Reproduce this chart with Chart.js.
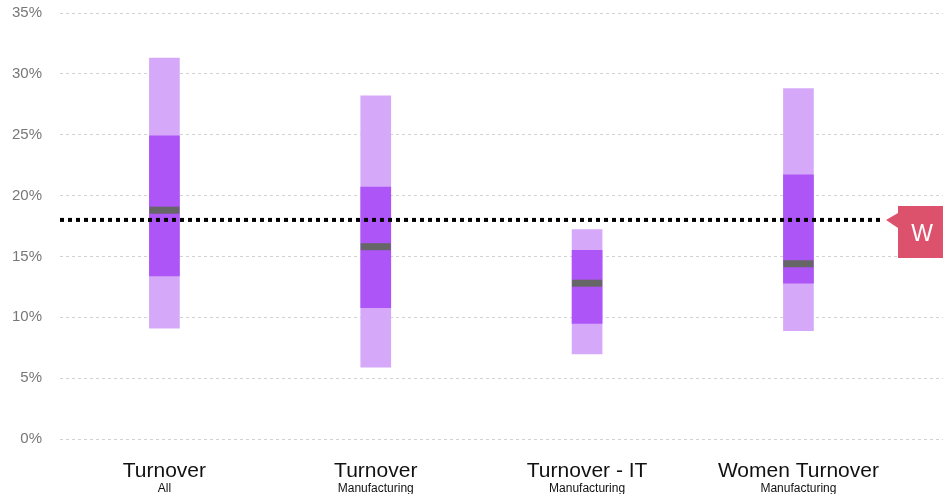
<!DOCTYPE html>
<html>
<head>
<meta charset="utf-8">
<script src="https://cdn.jsdelivr.net/npm/chart.js@4/dist/chart.umd.min.js"></script>
<style>
  html, body { margin: 0; padding: 0; background: #ffffff; }
  #wrap { width: 943px; height: 494px; position: relative; }
</style>
</head>
<body>
<div id="wrap"><canvas id="c"></canvas></div>
<script>
// ---- data ----
const categories    = ["Turnover", "Turnover", "Turnover - IT", "Women Turnover"];
const subCategories = ["All", "Manufacturing", "Manufacturing", "Manufacturing"];
const lowValues     = [9.1, 5.9, 7.0, 8.9];    // light band bottom
const q1Values      = [13.4, 10.8, 9.5, 12.8]; // dark band bottom
const medianValues  = [18.8, 15.8, 12.8, 14.4];
const q3Values      = [24.9, 20.7, 15.5, 21.7]; // dark band top
const highValues    = [31.3, 28.2, 17.2, 28.8]; // light band top
const benchmarkValue = [18];
const benchmarkLabel = ["W"];
const yTicks = [0, 5, 10, 15, 20, 25, 30, 35];

const FONT = "'Liberation Sans', Arial, Helvetica, sans-serif";

const lightData  = categories.map((c, i) => ({ x: i, y: [lowValues[i], highValues[i]] }));
const darkData   = categories.map((c, i) => ({ x: i, y: [q1Values[i], q3Values[i]] }));
const medianData = categories.map((c, i) => ({ x: i, y: medianValues[i] }));

const overlayPlugin = {
  id: 'overlay',
  afterDatasetsDraw(chart) {
    const ctx = chart.ctx;
    const xs = chart.scales.x, ys = chart.scales.y;
    const area = chart.chartArea;
    const yb = ys.getPixelForValue(benchmarkValue[0]);
    const tipX = area.right - 57;
    // dotted benchmark line
    ctx.save();
    ctx.strokeStyle = '#000000';
    ctx.lineWidth = 4;
    ctx.setLineDash([4, 4]);
    ctx.beginPath();
    ctx.moveTo(area.left, yb);
    ctx.lineTo(tipX - 4, yb);
    ctx.stroke();
    ctx.restore();
    // marker box with pointer
    const boxL = area.right - 45;
    ctx.save();
    ctx.fillStyle = '#dc526d';
    ctx.beginPath();
    ctx.moveTo(tipX, yb);
    ctx.lineTo(boxL, yb - 7);
    ctx.lineTo(boxL, yb - 14);
    ctx.lineTo(area.right, yb - 14);
    ctx.lineTo(area.right, yb + 38);
    ctx.lineTo(boxL, yb + 38);
    ctx.lineTo(boxL, yb + 8);
    ctx.closePath();
    ctx.fill();
    ctx.fillStyle = '#ffffff';
    ctx.font = '23px ' + FONT;
    ctx.textAlign = 'center';
    ctx.textBaseline = 'alphabetic';
    ctx.fillText(benchmarkLabel[0], boxL + 24, yb + 21);
    ctx.restore();
    // category labels
    ctx.save();
    ctx.textAlign = 'center';
    ctx.textBaseline = 'alphabetic';
    categories.forEach((c, i) => {
      const x = xs.getPixelForValue(i);
      ctx.fillStyle = '#111111';
      ctx.font = '21px ' + FONT;
      ctx.fillText(c, x, area.bottom + 38);
      ctx.font = '12px ' + FONT;
      ctx.fillText(subCategories[i], x, area.bottom + 53);
    });
    ctx.restore();
  }
};

new Chart(document.getElementById('c'), {
  type: 'bar',
  data: {
    datasets: [
      {
        type: 'line',
        label: 'Median',
        data: medianData,
        showLine: false,
        pointStyle: 'line',
        pointRadius: 15,
        pointHoverRadius: 15,
        pointBorderWidth: 7,
        pointHoverBorderWidth: 7,
        borderColor: '#666666',
        backgroundColor: '#666666',
        clip: false,
        order: 0
      },
      {
        label: 'Middle',
        data: darkData,
        backgroundColor: '#ad55f6',
        barThickness: 30,
        grouped: false,
        borderSkipped: false,
        order: 1
      },
      {
        label: 'Range',
        data: lightData,
        backgroundColor: '#d6a8f9',
        barThickness: 30,
        grouped: false,
        borderSkipped: false,
        order: 2
      }
    ]
  },
  options: {
    responsive: true,
    maintainAspectRatio: false,
    animation: false,
    layout: { autoPadding: false, padding: { top: 13, bottom: 55, left: 0, right: 0 } },
    plugins: { legend: { display: false }, tooltip: { enabled: false } },
    scales: {
      x: {
        type: 'linear',
        offset: false,
        min: -0.494,
        max: 3.684,
        display: false
      },
      y: {
        min: 0,
        max: 35,
        afterBuildTicks: (s) => { s.ticks = yTicks.map(v => ({ value: v })); },
        afterFit: (s) => { s.width = 60; s.paddingTop = 0; s.paddingBottom = 0; },
        border: { display: false, dash: [3, 3] },
        grid: {
          color: '#d2d2d2',
          lineWidth: 1,
          drawTicks: false,
          borderDash: [3, 3]
        },
        ticks: {
          padding: 18,
          color: '#777777',
          font: { family: FONT, size: 15 },
          callback: (v) => v + '%'
        }
      }
    }
  },
  plugins: [overlayPlugin]
});
</script>
</body>
</html>
